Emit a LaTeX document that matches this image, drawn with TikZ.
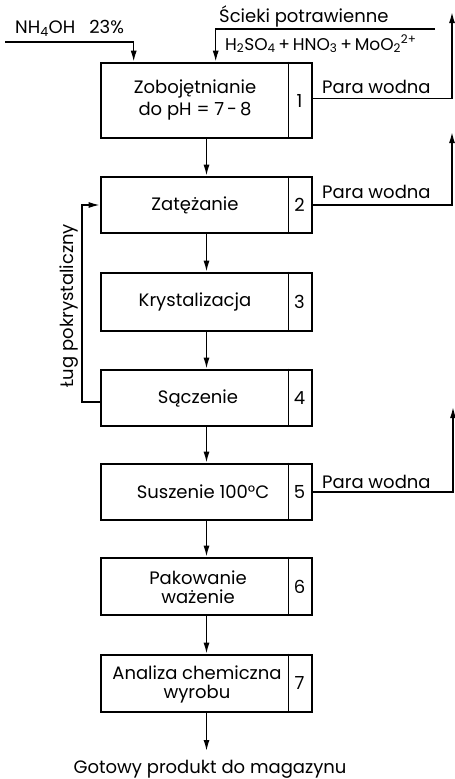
\documentclass[tikz,border=0pt]{standalone}
\usepackage{fontspec}
\setmainfont{Poppins}
\usetikzlibrary{arrows.meta,calc}
\begin{document}
\begin{tikzpicture}[x=1pt,y=1pt,
  font=\fontsize{18}{19}\selectfont,
  proc/.style={draw, line width=2.6pt, minimum width=211pt, inner sep=0pt},
  lbl/.style={inner sep=0pt, align=center},
  arr/.style={line width=1.4pt, -{Latex[length=11pt,width=6pt]}},
  ln/.style={line width=1.4pt},
]
\useasboundingbox (0,0) rectangle (455,-779);

% process boxes
\node[proc, minimum height=75pt] (b1) at (206.5,-100.5) {};
\node[proc, minimum height=56pt] (b2) at (206.5,-205) {};
\node[proc, minimum height=58pt] (b3) at (206.5,-302) {};
\node[proc, minimum height=56pt] (b4) at (206.5,-398) {};
\node[proc, minimum height=56pt] (b5) at (206.5,-492) {};
\node[proc, minimum height=57pt] (b6) at (206.5,-586.5) {};
\node[proc, minimum height=57pt] (b7) at (206.5,-683.5) {};

\foreach \b in {b1,b2,b3,b4,b5,b6,b7}
  \draw[ln] ([xshift=-25pt]\b.north east) -- ([xshift=-25pt]\b.south east);

% texts
\node[lbl] (t1) at (195,-100) {Zobojętnianie\\[3pt]do pH = 7\,-\,8};
\node[lbl] (t2) at (195,-205) {Zatężanie};
\node[lbl] (t3) at (195,-302) {Krystalizacja};
\node[lbl] (t4) at (198,-398) {Sączenie};
\node[lbl] (t5) at (203,-492) {Suszenie 100°C};
\node[lbl] (t6) at (198,-587) {Pakowanie\\ważenie};
\node[lbl] (t7) at (197,-684) {Analiza chemiczna\\wyrobu};

% numbers
\node[lbl] (n1) at (299.5,-100.5) {1};
\node[lbl] (n2) at (299.5,-205) {2};
\node[lbl] (n3) at (299.5,-302) {3};
\node[lbl] (n4) at (299.5,-398) {4};
\node[lbl] (n5) at (299.5,-492) {5};
\node[lbl] (n6) at (299.5,-586.5) {6};
\node[lbl] (n7) at (299.5,-683.5) {7};

% main flow
\draw[arr] (b1) -- (b2);
\draw[arr] (b2) -- (b3);
\draw[arr] (b3) -- (b4);
\draw[arr] (b4) -- (b5);
\draw[arr] (b5) -- (b6);
\draw[arr] (b6) -- (b7);
\coordinate (outtip) at (206.5,-751);
\draw[arr] (b7) -- (outtip);
\node[lbl, anchor=base] (out) at (210,-773) {Gotowy produkt do magazynu};

% inputs
\coordinate (nh0) at (5,-42);
\node[lbl, anchor=base west] (nhl) at (15,-33) {NH\textsubscript{4}OH\hspace{14pt}23\%};
\draw[arr] (nh0) -| ([xshift=34pt]b1.north west);

\coordinate (sc0) at (435,-29);
\node[lbl, anchor=base west] (scl) at (219,-22) {Ścieki potrawienne};
\node[lbl, anchor=base west, font=\fontsize{17}{18}\selectfont] (scf) at (225,-50) {H\textsubscript{2}SO\textsubscript{4}\,+\,HNO\textsubscript{3}\,+\,MoO\textsubscript{2}\textsuperscript{2+}};
\draw[arr] (sc0) -| ([xshift=116pt]b1.north west);

% steam outputs
\coordinate (pw1) at (452,-12);
\coordinate (pw2) at (452,-132);
\coordinate (pw5) at (453,-407);
\draw[arr] ([yshift=-37pt]b1.north east) -| (pw1);
\draw[arr] (b2.east) -| (pw2);
\draw[arr] (b5.east) -| (pw5);
\node[lbl, anchor=base west] (p1) at (322,-93) {Para wodna};
\node[lbl, anchor=base west] (p2) at (322,-198) {Para wodna};
\node[lbl, anchor=base west] (p5) at (322,-488) {Para wodna};

% recycle loop
\coordinate (lug) at (82,-300);
\draw[arr] ([yshift=-4pt]b4.west) -| (lug) |- (b2.west);
\node[lbl, rotate=90] (lugl) at (69,-306) {Ług pokrystaliczny};
\end{tikzpicture}
\end{document}
